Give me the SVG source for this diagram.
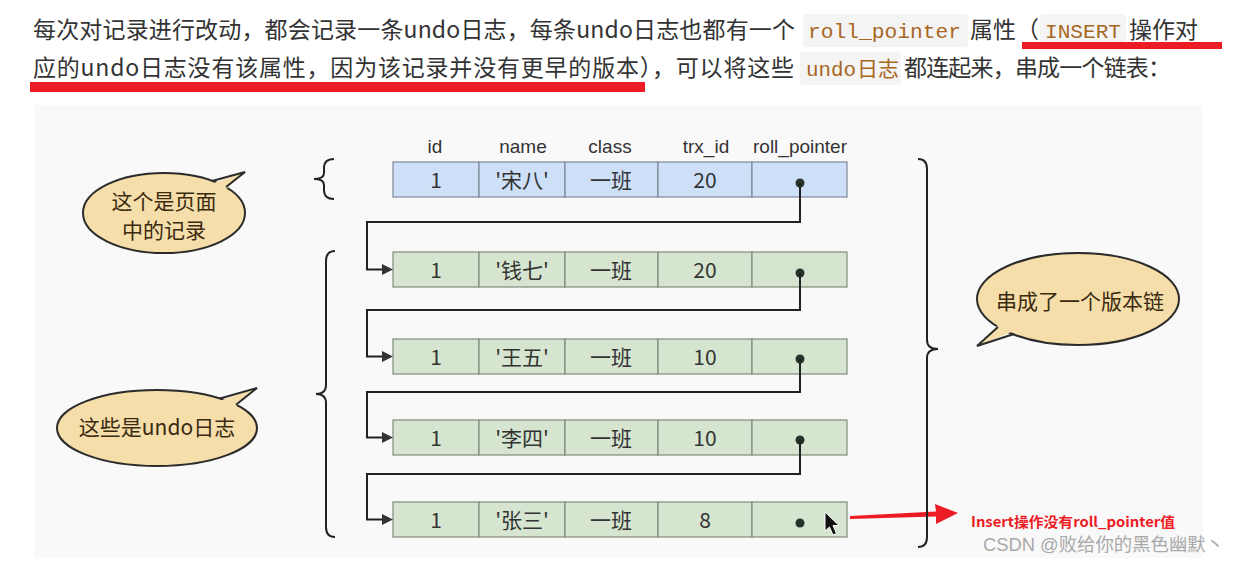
<svg xmlns="http://www.w3.org/2000/svg" width="1241" height="564" viewBox="0 0 1241 564">
<style>
.para{font-family:"Noto Sans CJK SC","Noto Sans",sans-serif;font-size:23px;fill:#333}
.code{font-family:"Liberation Mono","DejaVu Sans Mono",monospace;font-size:21px;fill:#a8671f}
.codecjk{font-family:"Noto Sans CJK SC",sans-serif;font-size:21px;fill:#a8671f}
.codebg{fill:#f4f4f4}
.hdr{font-family:"Liberation Sans","Noto Sans",sans-serif;font-size:19px;fill:#333;text-anchor:middle}
.cell{font-family:"Noto Sans CJK SC","Noto Sans",sans-serif;font-size:21px;fill:#333;text-anchor:middle}
.blue{fill:#cde0f8;stroke:#7d8794;stroke-width:1.2}
.green{fill:#d5e5d0;stroke:#808a7d;stroke-width:1.2}
.dot{fill:#26332b}
.conn{fill:none;stroke:#222;stroke-width:2}
.ah{fill:#333}
.brace{fill:none;stroke:#222;stroke-width:2}
.bub{fill:#f5deaa;stroke:#2b2b2b;stroke-width:2}
.bubfill{fill:#f5deaa}
.tail{fill:none;stroke:#2b2b2b;stroke-width:2;stroke-linejoin:miter}
.btxt{font-family:"Noto Sans CJK SC",sans-serif;font-size:21px;fill:#3a2a10;text-anchor:middle}
</style>
<rect x="0" y="0" width="1241" height="564" fill="#ffffff"/>
<g id="paragraph">
  <rect class="codebg" x="803" y="14" width="165" height="33" rx="3"/>
  <rect class="codebg" x="1040" y="14" width="86" height="33" rx="3"/>
  <rect class="codebg" x="800" y="52" width="101" height="33" rx="3"/>
  <text class="para" x="33" y="38" textLength="762" lengthAdjust="spacing">每次对记录进行改动，都会记录一条undo日志，每条undo日志也都有一个</text>
  <text class="code" x="808" y="38" textLength="153" lengthAdjust="spacingAndGlyphs">roll_pointer</text>
  <text class="para" x="970" y="38">属性（</text>
  <text class="code" x="1045" y="38" textLength="76" lengthAdjust="spacingAndGlyphs">INSERT</text>
  <text class="para" x="1129" y="38" textLength="69" lengthAdjust="spacing">操作对</text>
  <text class="para" x="33" y="76" textLength="761" lengthAdjust="spacing">应的undo日志没有该属性，因为该记录并没有更早的版本），可以将这些</text>
  <text class="code" x="806" y="76" textLength="50" lengthAdjust="spacingAndGlyphs">undo</text>
  <text class="codecjk" x="857" y="76">日志</text>
  <text class="para" x="904" y="76" textLength="267" lengthAdjust="spacing">都连起来，串成一个链表：</text>
  <rect x="1022" y="42" width="200" height="7" fill="#ec1c24"/>
  <rect x="30" y="82" width="615" height="10" fill="#ec1c24"/>
</g>
<rect id="panel" x="35" y="105" width="1168" height="453" fill="#f9f9f9"/>
<g id="header">
  <text class="hdr" x="435" y="153">id</text>
  <text class="hdr" x="523" y="153">name</text>
  <text class="hdr" x="610" y="153">class</text>
  <text class="hdr" x="706" y="153">trx_id</text>
  <text class="hdr" x="800" y="153">roll_pointer</text>
</g>
<g id="row-song">
  <rect class="blue" x="393" y="162" width="86" height="35"/>
  <rect class="blue" x="479" y="162" width="86" height="35"/>
  <rect class="blue" x="565" y="162" width="93" height="35"/>
  <rect class="blue" x="658" y="162" width="94" height="35"/>
  <rect class="blue" x="752" y="162" width="95" height="35"/>
  <text class="cell" x="436" y="187.5">1</text>
  <text class="cell" x="522" y="187.5">'宋八'</text>
  <text class="cell" x="611" y="187.5">一班</text>
  <text class="cell" x="705" y="187.5">20</text>
  <circle class="dot" cx="800" cy="183" r="4.5"/>
</g>
<g id="row-qian">
  <rect class="green" x="393" y="252" width="86" height="35"/>
  <rect class="green" x="479" y="252" width="86" height="35"/>
  <rect class="green" x="565" y="252" width="93" height="35"/>
  <rect class="green" x="658" y="252" width="94" height="35"/>
  <rect class="green" x="752" y="252" width="95" height="35"/>
  <text class="cell" x="436" y="277.5">1</text>
  <text class="cell" x="522" y="277.5">'钱七'</text>
  <text class="cell" x="611" y="277.5">一班</text>
  <text class="cell" x="705" y="277.5">20</text>
  <circle class="dot" cx="800" cy="273" r="4.5"/>
</g>
<g id="row-wang">
  <rect class="green" x="393" y="339" width="86" height="35"/>
  <rect class="green" x="479" y="339" width="86" height="35"/>
  <rect class="green" x="565" y="339" width="93" height="35"/>
  <rect class="green" x="658" y="339" width="94" height="35"/>
  <rect class="green" x="752" y="339" width="95" height="35"/>
  <text class="cell" x="436" y="364.5">1</text>
  <text class="cell" x="522" y="364.5">'王五'</text>
  <text class="cell" x="611" y="364.5">一班</text>
  <text class="cell" x="705" y="364.5">10</text>
  <circle class="dot" cx="800" cy="359" r="4.5"/>
</g>
<g id="row-li">
  <rect class="green" x="393" y="420" width="86" height="35"/>
  <rect class="green" x="479" y="420" width="86" height="35"/>
  <rect class="green" x="565" y="420" width="93" height="35"/>
  <rect class="green" x="658" y="420" width="94" height="35"/>
  <rect class="green" x="752" y="420" width="95" height="35"/>
  <text class="cell" x="436" y="445.5">1</text>
  <text class="cell" x="522" y="445.5">'李四'</text>
  <text class="cell" x="611" y="445.5">一班</text>
  <text class="cell" x="705" y="445.5">10</text>
  <circle class="dot" cx="800" cy="440" r="4.5"/>
</g>
<g id="row-zhang">
  <rect class="green" x="393" y="502" width="86" height="35"/>
  <rect class="green" x="479" y="502" width="86" height="35"/>
  <rect class="green" x="565" y="502" width="93" height="35"/>
  <rect class="green" x="658" y="502" width="94" height="35"/>
  <rect class="green" x="752" y="502" width="95" height="35"/>
  <text class="cell" x="436" y="527.5">1</text>
  <text class="cell" x="522" y="527.5">'张三'</text>
  <text class="cell" x="611" y="527.5">一班</text>
  <text class="cell" x="705" y="527.5">8</text>
  <circle class="dot" cx="800" cy="523" r="4.5"/>
</g>
<g id="connectors">
  <polyline class="conn" points="800,183 800,222 367,222 367,269.5 384,269.5"/>
  <polygon class="ah" points="382,264 393,269.5 382,275"/>
  <polyline class="conn" points="800,273 800,310 367,310 367,356.5 384,356.5"/>
  <polygon class="ah" points="382,351 393,356.5 382,362"/>
  <polyline class="conn" points="800,359 800,392 367,392 367,437.5 384,437.5"/>
  <polygon class="ah" points="382,432 393,437.5 382,443"/>
  <polyline class="conn" points="800,440 800,474 367,474 367,519.5 384,519.5"/>
  <polygon class="ah" points="382,514 393,519.5 382,525"/>
  <polygon fill="#ec1c24" points="850,516 936,511.5 935,504 958,513 936,524 936,516.5 850,519"/>
</g>
<g id="braces">
  <path class="brace" d="M334,159 Q324,159 324,168 L324,173 Q324,179 314,179 Q324,179 324,185 L324,190 Q324,199 334,199"/>
  <path class="brace" d="M335,251 Q326,251 326,261 L326,385 Q326,394 316,394 Q326,394 326,403 L326,527 Q326,537 335,537"/>
  <path class="brace" d="M918,159 Q927,159 927,169 L927,340 Q927,349 938,349 Q927,349 927,358 L927,537 Q927,547 918,547"/>
</g>
<g id="bubble-page">
  <ellipse class="bub" cx="164" cy="213" rx="81" ry="40"/>
  <polygon class="bubfill" points="211,184 245,172 225,190 216,193"/>
  <polyline class="tail" points="212,181 245,172 226,187"/>
  <text class="btxt" x="164" y="209" font-size="20">这个是页面</text>
  <text class="btxt" x="164" y="238" font-size="20">中的记录</text>
</g>
<g id="bubble-undo">
  <ellipse class="bub" cx="157" cy="428" rx="100" ry="38"/>
  <polygon class="bubfill" points="219,401 257,388 235,407 226,409"/>
  <polyline class="tail" points="220,398.5 257,388 236,404.7"/>
  <text class="btxt" x="157" y="435" font-size="20">这些是undo日志</text>
</g>
<g id="bubble-chain">
  <ellipse class="bub" cx="1078" cy="299" rx="101" ry="46"/>
  <polygon class="bubfill" points="999,324 977,346 1014,331 1006,325"/>
  <polyline class="tail" points="998,327 977,346 1014,334"/>
  <text class="btxt" x="1080" y="309">串成了一个版本链</text>
</g>
<g id="note">
  <text x="971" y="527" font-family="Noto Sans CJK SC, sans-serif" font-size="14" font-weight="bold" fill="#ec1c24" textLength="204" lengthAdjust="spacingAndGlyphs">Insert操作没有roll_pointer值</text>
</g>
<g id="cursor">
  <polygon points="825,512 825,531 829.5,527 833,535 836.5,533.5 833,525.5 839,525.5" fill="#111" stroke="#fff" stroke-width="1"/>
</g>
<text x="983" y="551" font-family="Liberation Sans, Noto Sans CJK SC, sans-serif" font-size="18" fill="#a9a9a9" textLength="241" lengthAdjust="spacingAndGlyphs">CSDN @败给你的黑色幽默丶</text>
</svg>
